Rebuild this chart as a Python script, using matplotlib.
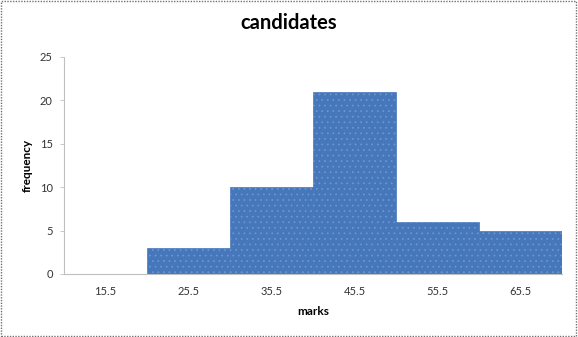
import matplotlib
matplotlib.use("Agg")
import matplotlib.pyplot as plt
from matplotlib.patches import Rectangle

# data
marks = ["15.5", "25.5", "35.5", "45.5", "55.5", "65.5"]
frequency = [0, 3, 10, 21, 6, 5]
y_ticks = [0, 5, 10, 15, 20, 25]

plt.rcParams["font.family"] = ["Lato", "DejaVu Sans"]
plt.rcParams["hatch.linewidth"] = 0.5

fig = plt.figure(figsize=(5.78, 3.37), dpi=100)
ax = fig.add_axes([0.1107, 0.187, 0.8616, 0.644])

x = list(range(len(marks)))
ax.bar(x, frequency, width=1.0, color="#4677bb", edgecolor="#4677bb", linewidth=0.5)
ax.bar(x, frequency, width=1.0, facecolor="none", edgecolor="#6f98d0",
       hatch="...", linewidth=0)

ax.set_xlim(-0.5, len(marks) - 0.5)
ax.set_ylim(0, 25)
ax.set_xticks(x)
ax.set_xticklabels(marks)
ax.set_yticks(y_ticks)

ax.tick_params(axis="x", length=0, pad=9, labelsize=8, colors="#333333")
ax.tick_params(axis="y", length=3, width=0.6, color="#bfbfbf", pad=5,
               labelsize=8, labelcolor="#333333")

for side in ["top", "right"]:
    ax.spines[side].set_visible(False)
for side in ["left", "bottom"]:
    ax.spines[side].set_color("#bfbfbf")
    ax.spines[side].set_linewidth(0.8)
    ax.spines[side].set_linestyle((0, (1, 1)))

ax.set_xlabel("marks", fontsize=8.5, fontweight="bold", labelpad=6)
ax.set_ylabel("frequency", fontsize=8.5, fontweight="bold", labelpad=5)
fig.suptitle("candidates", fontsize=14.5, fontweight="bold", x=0.5, y=0.96)

# dotted frame around the whole chart
fig.patches.append(Rectangle((0.002, 0.003), 0.995, 0.994, transform=fig.transFigure,
                             fill=False, edgecolor="#707070", linewidth=1.0,
                             linestyle=(0, (1, 1))))

fig.savefig("out.png", dpi=100)
